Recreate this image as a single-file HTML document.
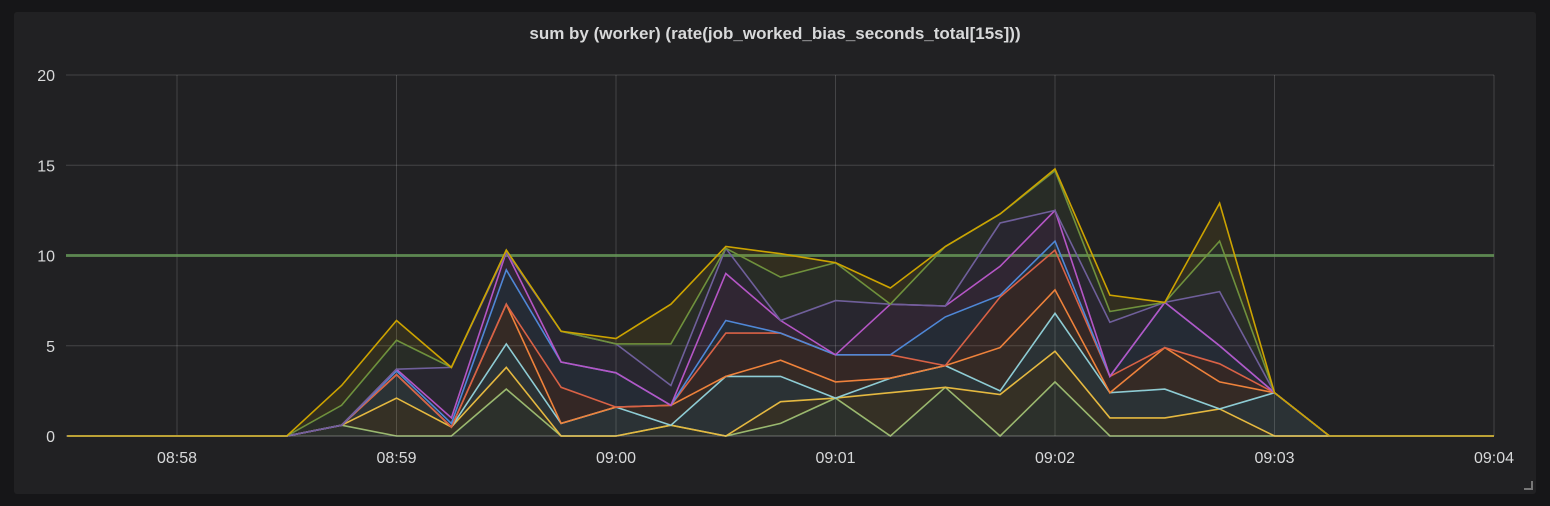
<!DOCTYPE html>
<html><head><meta charset="utf-8"><style>
html,body{margin:0;padding:0;background:#161618;width:1550px;height:506px;overflow:hidden;font-family:"Liberation Sans",sans-serif}
#panel{position:absolute;left:14px;top:12px;width:1522px;height:482px;background:#212123;border-radius:3px}
#title{position:absolute;left:0;top:24px;width:1550px;text-align:center;color:#d8d9da;font-size:17px;font-weight:bold}
svg{position:absolute;left:0;top:0}
</style></head><body>
<div id="panel"></div>
<div id="title">sum by (worker) (rate(job_worked_bias_seconds_total[15s]))</div>
<svg id="chart" width="1550" height="506"></svg>
<script>
const yTicks=[0,5,10,15,20];
const xTickLabels=["08:58","08:59","09:00","09:01","09:02","09:03","09:04"];
const xTickMinutes=[1,2,3,4,5,6,7]; // minutes after 08:57
const threshold=10;
const startMinute=0.5; // 08:57:30, sample every 0.25 min
const s1=[0,0,0,0, 0,0.6,0,0,2.6,0,0,0.6,0,0.7,2.1,0,2.7,0,3.0,0,0,0,0,0, 0,0,0];
const s2=[0,0,0,0, 0,0,2.1,0.5,1.2,0,0,0,0,1.2,0,2.4,0,2.3,1.7,1.0,1.0,1.5,0,0, 0,0,0];
const s3=[0,0,0,0, 0,0,1.3,0,1.3,0.7,1.6,0,3.3,1.4,0,0.8,1.2,0.2,2.1,1.4,1.6,0,2.4,0, 0,0,0];
const s4=[0,0,0,0, 0,0,0,0,2.2,0,0,1.1,0,0.9,0.9,0,0,2.4,1.3,0,2.3,1.5,0,0, 0,0,0];
const s5=[0,0,0,0, 0,0,0,0,0,2.0,0,0,2.4,1.5,1.5,1.3,0,2.8,2.2,0.9,0,1.0,0,0, 0,0,0];
const s6=[0,0,0,0, 0,0,0.2,0.2,1.9,1.4,1.9,0,0.7,0,0,0,2.7,0.1,0.5,0,2.5,1.0,0,0, 0,0,0];
const s7=[0,0,0,0, 0,0,0.1,0.3,1.0,0,0,0,2.6,0.7,0,2.8,0.6,1.6,1.7,0,0,0,0,0, 0,0,0];
const s8=[0,0,0,0, 0,0,0,2.8,0,1.7,1.6,1.1,1.4,0,3.0,0,0,2.4,0,3.0,0,3.0,0,0, 0,0,0];
const s9=[0,0,0,0, 0,1.1,1.6,0,0.1,0,0,2.3,0,2.4,2.1,0,3.3,0.5,2.2,0.6,0,2.8,0,0, 0,0,0];
const s10=[0,0,0,0, 0,1.1,1.1,0,0,0,0.3,2.2,0.1,1.3,0,0.9,0,0,0.1,0.9,0,2.1,0,0, 0,0,0];
const seriesList=[s1,s2,s3,s4,s5,s6,s7,s8,s9,s10];
const colors=["#96B872","#EAB839","#8AD0DC","#EF843C","#E0603F","#4A8AD8","#B956C8","#705DA0","#6A9040","#CCA300"];
const NS="http://www.w3.org/2000/svg";
const svg=document.getElementById('chart');
const X0=66,X1=1494,Y0=436,Y1=75;
function xs(m){return 177+(m-1)*219.5;}
function ys(v){return Y0-(v-0)/(20-0)*(Y0-Y1);}
function mk(tag,attrs){const e=document.createElementNS(NS,tag);for(const k in attrs)e.setAttribute(k,attrs[k]);svg.appendChild(e);return e;}
yTicks.forEach(v=>{
  const l=mk('line',{x1:X0,x2:X1,y1:ys(v),y2:ys(v),stroke:'rgba(255,255,255,0.16)','stroke-width':1});
  
  
  const t=mk('text',{x:55,y:ys(v)+6,'text-anchor':'end',fill:'#d8d9da','font-size':16});
  t.textContent=v;
  
  
});
xTickMinutes.forEach((m,i)=>{
  const l=mk('line',{x1:xs(m),x2:xs(m),y1:Y1,y2:Y0,stroke:'rgba(255,255,255,0.16)','stroke-width':1});
  
  
  const t=mk('text',{x:xs(m),y:463,'text-anchor':'middle',fill:'#d8d9da','font-size':16});
  t.textContent=xTickLabels[i];
  
  
});
const thr=mk('line',{x1:X0,x2:X1,y1:ys(threshold),y2:ys(threshold),stroke:'rgba(100,150,85,0.8)','stroke-width':3});


const n=s1.length;
let base=new Array(n).fill(0);
seriesList.forEach((s,k)=>{
  const top=base.map((b,i)=>b+s[i]);
  const pts=top.map((v,i)=>xs(startMinute+i*0.25).toFixed(1)+','+ys(v).toFixed(1));
  const bpts=base.map((v,i)=>xs(startMinute+i*0.25).toFixed(1)+','+ys(v).toFixed(1)).reverse();
  const a=mk('polygon',{points:pts.concat(bpts).join(' '),fill:colors[k],'fill-opacity':0.1,stroke:'none'});
  
  
  const p=mk('polyline',{points:pts.join(' '),fill:'none',stroke:colors[k],'stroke-width':1.6,'stroke-linejoin':'miter'});
  
  
  base=top;
});
const ax=mk('line',{x1:X0,x2:X1,y1:Y0,y2:Y0,stroke:'rgba(255,255,255,0.2)','stroke-width':1});


const rz=mk('path',{d:'M1524 489 L1532 489 L1532 481',fill:'none',stroke:'#777','stroke-width':2});


</script>
</body></html>
